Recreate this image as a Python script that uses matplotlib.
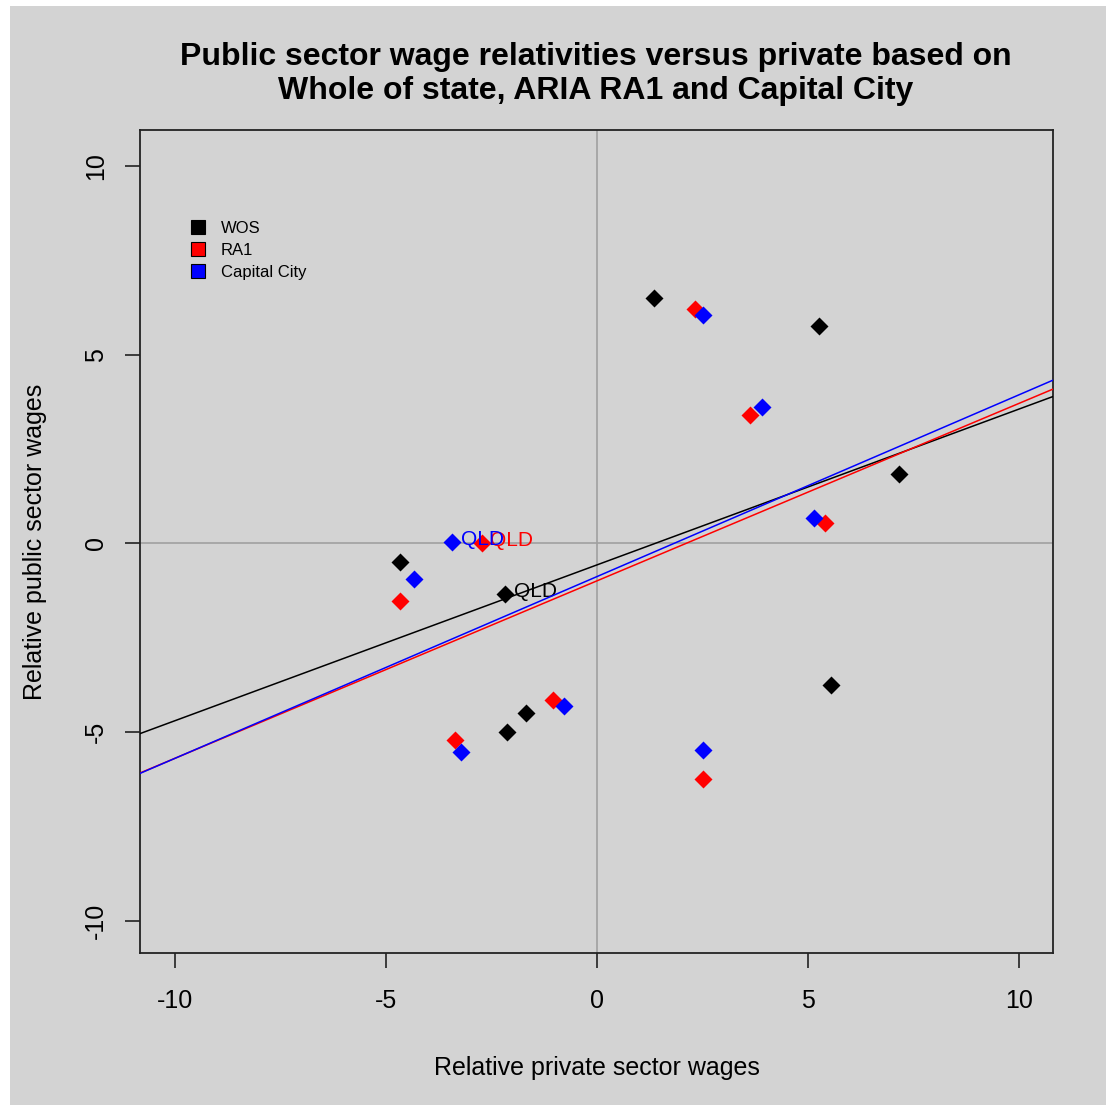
import numpy as np
import matplotlib.pyplot as plt
from matplotlib.patches import Rectangle

plt.rcParams["font.family"] = ["Liberation Sans", "DejaVu Sans"]

# relative private (x) and public (y) sector wages per state
wos_x = [1.36, 5.27, 7.16, 5.55, -4.67, -2.17, -2.14, -1.69]
wos_y = [6.51, 5.77, 1.85, -3.76, -0.50, -1.35, -5.00, -4.50]

ra1_x = [2.33, 3.63, 5.41, 2.52, -4.67, -2.73, -1.05, -3.37]
ra1_y = [6.22, 3.41, 0.53, -6.24, -1.53, 0.00, -4.15, -5.21]

cap_x = [2.52, 3.92, 5.14, 2.52, -4.34, -3.42, -0.77, -3.21]
cap_y = [6.06, 3.62, 0.66, -5.48, -0.95, 0.03, -4.31, -5.53]

qld_idx = [5, 5, 5]  # index of QLD in each series
series_names = ["WOS", "RA1", "Capital City"]
series_colors = ["black", "red", "blue"]

bg = "#d3d3d3"

fig = plt.figure(figsize=(11.10, 11.09), dpi=100, facecolor="white")
fig.patches.append(Rectangle((10 / 1110, 4 / 1109), 1096 / 1110, 1099 / 1109,
                             transform=fig.transFigure, facecolor=bg,
                             edgecolor="none", zorder=-10))
ax = fig.add_axes([140 / 1110, 1 - 953 / 1109, 913 / 1110, 823 / 1109])
ax.set_facecolor(bg)

ax.axhline(0, color="#a0a0a0", lw=1.2, zorder=1)
ax.axvline(0, color="#a0a0a0", lw=1.2, zorder=1)

data = [(wos_x, wos_y), (ra1_x, ra1_y), (cap_x, cap_y)]
for (xs, ys), name, col, qi in zip(data, series_names, series_colors, qld_idx):
    ax.plot(xs, ys, "D", color=col, markersize=9, mec="none", zorder=3, label=name)
    ax.annotate("QLD", (xs[qi], ys[qi]), xytext=(6, 2), textcoords="offset points",
                color=col, fontsize=15, va="center", ha="left", zorder=3)

xlim = (-10.82, 10.8)
for (xs, ys), col in zip(data, series_colors):
    slope, icpt = np.polyfit(xs, ys, 1)
    xx = np.array(xlim)
    ax.plot(xx, icpt + slope * xx, color=col, lw=1.1, zorder=4)

ax.set_xlim(xlim)
ax.set_ylim(-10.85, 10.95)
ticks = [-10, -5, 0, 5, 10]
ax.set_xticks(ticks)
ax.set_yticks(ticks)
ax.set_xticklabels([str(t) for t in ticks], fontsize=18)
ax.set_yticklabels([str(t) for t in ticks], fontsize=18, rotation=90, va="center")
ax.tick_params(axis="both", length=11, width=1.2, color="#222222")
ax.tick_params(axis="x", pad=15)
ax.tick_params(axis="y", pad=12)
for sp in ax.spines.values():
    sp.set_linewidth(1.3)
    sp.set_color("#222222")

ax.set_xlabel("Relative private sector wages", fontsize=18, labelpad=31)
ax.set_ylabel("Relative public sector wages", fontsize=18, labelpad=27)
fig.text(596 / 1110, 1 - 74 / 1109,
         "Public sector wage relativities versus private based on\n"
         "Whole of state, ARIA RA1 and Capital City",
         ha="center", va="center", fontsize=23, fontweight="bold", linespacing=1.2)

handles = [plt.Line2D([], [], marker="s", ls="none", color=c, mec="black", mew=0.8,
                      markersize=10) for c in series_colors]
ax.legend(handles, series_names, loc="upper left", bbox_to_anchor=(0.045, 0.898),
          frameon=False, fontsize=12, handletextpad=0.8, labelspacing=0.43,
          handlelength=1.2, borderaxespad=0)

fig.savefig("out.png", dpi=100, facecolor="white")
